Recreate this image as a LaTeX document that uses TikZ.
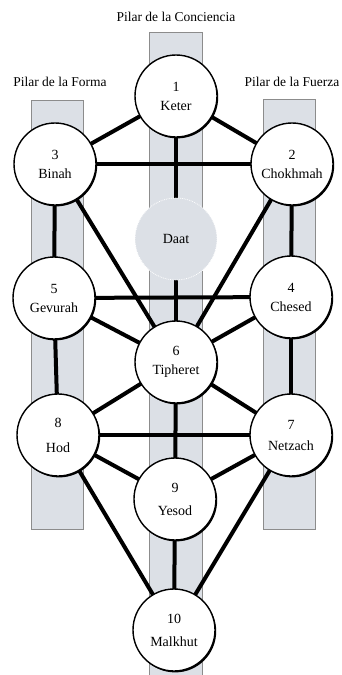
\documentclass[tikz,border=0pt]{standalone}
\usepackage{fontspec}
\setmainfont{Liberation Serif}
\usetikzlibrary{backgrounds}
\usetikzlibrary{shadows}

\definecolor{pilargris}{RGB}{220,224,230}
\definecolor{pilarborde}{RGB}{140,140,140}

\begin{document}
\begin{tikzpicture}[x=1pt,y=-1pt,
    circulo/.style={circle,minimum size=82pt,inner sep=0pt,align=center,
      font=\fontsize{14}{19}\selectfont},
    sefira/.style={circulo,draw=black,line width=1.4pt,fill=white,
      drop shadow={shadow xshift=1.2pt,shadow yshift=-1.4pt,opacity=1,fill=black}},
    oculta/.style={circulo,fill=pilargris,draw=white,line width=0.8pt,densely dotted},
    pilar/.style={fill=pilargris,draw=pilarborde,line width=0.8pt},
    canal/.style={line width=4pt},
    titulo/.style={font=\fontsize{13.5}{15}\selectfont,inner sep=0pt}]
      \useasboundingbox (0,0) rectangle (342,675);
      \node[titulo] (tconciencia) at (176,17) {Pilar de la Conciencia};
      \node[titulo] (tforma) at (60,82) {Pilar de la Forma};
      \node[titulo] (tfuerza) at (292,82) {Pilar de la Fuerza};
      \node[sefira] (keter) at (176,96) {1\\Keter};
      \node[sefira] (chokhmah) at (292,164) {2\\Chokhmah};
      \node[sefira] (binah) at (55,164) {3\\Binah};
      \node[oculta] (daat) at (176,239) {Daat};
      \node[sefira] (chesed) at (291,297) {4\\Chesed};
      \node[sefira] (gevurah) at (54,298) {5\\Gevurah};
      \node[sefira] (tipheret) at (176,362) {6\\Tipheret};
      \node[sefira] (netzach) at (291,435) {7\\[2pt]Netzach};
      \node[sefira] (hod) at (58,435) {8\\[6pt]Hod};
      \node[sefira] (yesod) at (175,499) {9\\[4pt]Yesod};
      \node[sefira] (malkhut) at (174,630) {10\\[4pt]Malkhut};
      \begin{scope}[on background layer]
        \draw[pilar] (149,32) rectangle (202,675);
        \draw[pilar] (31,100) rectangle (83,529);
        \draw[pilar] (263,99) rectangle (315,529);
        \foreach \a/\b in {keter/binah,keter/chokhmah,keter/tipheret,binah/chokhmah,
            binah/gevurah,chokhmah/chesed,binah/tipheret,chokhmah/tipheret,
            gevurah/chesed,gevurah/tipheret,chesed/tipheret,gevurah/hod,chesed/netzach,
            tipheret/hod,tipheret/netzach,tipheret/yesod,hod/netzach,hod/yesod,
            netzach/yesod,hod/malkhut,netzach/malkhut,yesod/malkhut} {
          \draw[canal] (\a.center) -- (\b.center);
        }
      \end{scope}
    \end{tikzpicture}
\end{document}
